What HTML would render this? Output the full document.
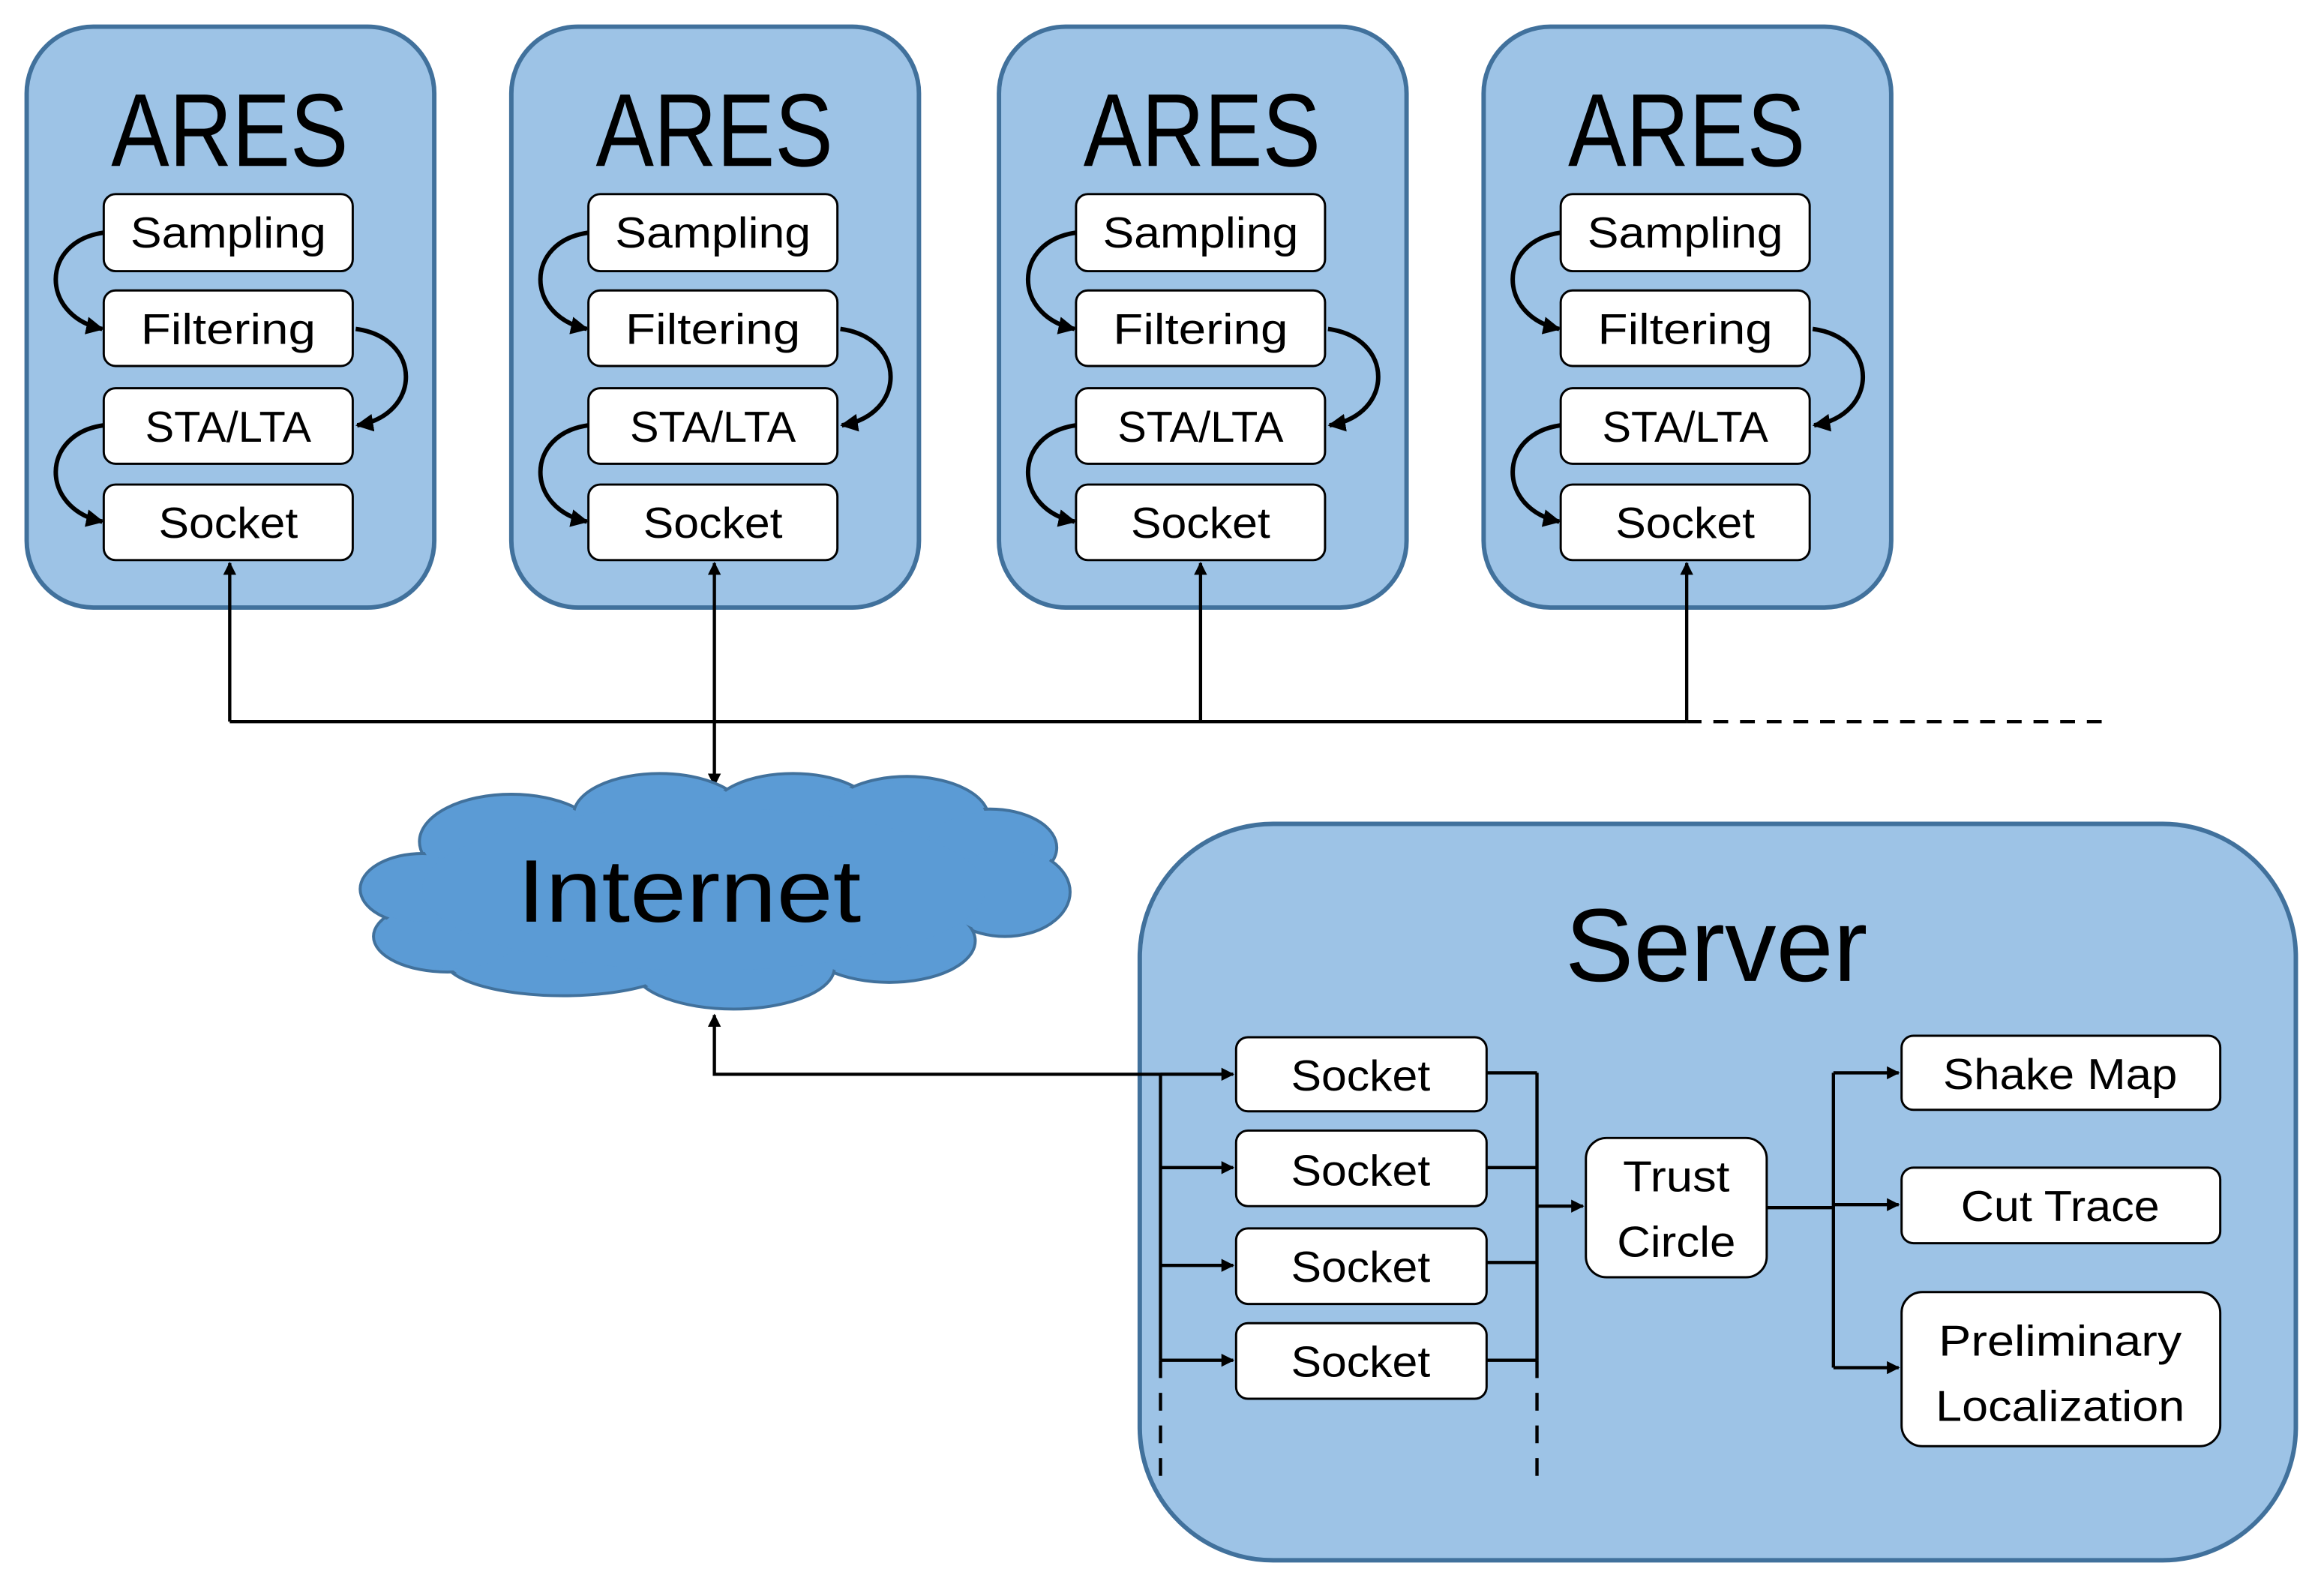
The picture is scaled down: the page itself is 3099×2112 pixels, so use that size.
<!DOCTYPE html>
<html><head><meta charset="utf-8"><style>html,body{margin:0;padding:0;background:#fff}svg{display:block}</style></head>
<body>
<svg width="3099" height="2112" viewBox="0 0 1568 1069" preserveAspectRatio="none" xmlns="http://www.w3.org/2000/svg" font-family="'Liberation Sans', sans-serif">
<defs>
<marker id="a" viewBox="0 0 10 10" refX="9" refY="5" markerWidth="4" markerHeight="4" orient="auto-start-reverse"><path d="M0,0 L10,5 L0,10 z" fill="#000"/></marker>
<g id="ares">
<rect x="1" y="1" width="275" height="392" rx="45" fill="#9DC3E6" stroke="#41719C" stroke-width="3"/>
<text x="138" y="95" font-size="70" text-anchor="middle" textLength="160" lengthAdjust="spacingAndGlyphs">ARES</text>
<g fill="#fff" stroke="#000" stroke-width="1.5">
<rect x="53" y="114" width="168" height="52" rx="8"/>
<rect x="53" y="179" width="168" height="51" rx="8"/>
<rect x="53" y="245" width="168" height="51" rx="8"/>
<rect x="53" y="310" width="168" height="51" rx="8"/>
</g>
<g font-size="29" text-anchor="middle">
<text x="137" y="150" textLength="132" lengthAdjust="spacingAndGlyphs">Sampling</text>
<text x="137" y="215" textLength="118" lengthAdjust="spacingAndGlyphs">Filtering</text>
<text x="137" y="281" textLength="112" lengthAdjust="spacingAndGlyphs">STA/LTA</text>
<text x="137" y="346" textLength="94" lengthAdjust="spacingAndGlyphs">Socket</text>
</g>
<g fill="none" stroke="#000" stroke-width="3" marker-end="url(#a)">
<path d="M53,140 C10,146 10,196 52,205"/>
<path d="M223,205 C268,211 268,263 224,270"/>
<path d="M53,270 C10,276 10,326 52,335"/>
</g>
</g>
</defs>
<use href="#ares" x="17" y="17"/>
<use href="#ares" x="344" y="17"/>
<use href="#ares" x="673" y="17"/>
<use href="#ares" x="1000" y="17"/>

<g fill="none" stroke="#000" stroke-width="2.2">
<path d="M155,487 V380" marker-end="url(#a)"/>
<path d="M810,487 V380" marker-end="url(#a)"/>
<path d="M1138,487 V380" marker-end="url(#a)"/>
<path d="M482,380 V530" marker-start="url(#a)" marker-end="url(#a)"/>
<path d="M155,487 H1138"/>
<path d="M1138,487 H1420" stroke-dasharray="10,8"/>
</g>

<g fill="#5B9BD5" stroke="#41719C" stroke-width="2">
<ellipse cx="345" cy="568" rx="62" ry="32"/><ellipse cx="445" cy="550" rx="58" ry="28"/><ellipse cx="535" cy="548" rx="55" ry="26"/><ellipse cx="612" cy="552" rx="55" ry="28"/><ellipse cx="668" cy="572" rx="45" ry="26"/><ellipse cx="678" cy="602" rx="44" ry="30"/><ellipse cx="600" cy="635" rx="58" ry="28"/><ellipse cx="495" cy="653" rx="68" ry="28"/><ellipse cx="380" cy="648" rx="80" ry="24"/><ellipse cx="302" cy="632" rx="50" ry="24"/><ellipse cx="285" cy="600" rx="42" ry="24"/>
</g>
<g fill="#5B9BD5">
<ellipse cx="345" cy="568" rx="60" ry="30"/><ellipse cx="445" cy="550" rx="56" ry="26"/><ellipse cx="535" cy="548" rx="53" ry="24"/><ellipse cx="612" cy="552" rx="53" ry="26"/><ellipse cx="668" cy="572" rx="43" ry="24"/><ellipse cx="678" cy="602" rx="42" ry="28"/><ellipse cx="600" cy="635" rx="56" ry="26"/><ellipse cx="495" cy="653" rx="66" ry="26"/><ellipse cx="380" cy="648" rx="78" ry="22"/><ellipse cx="302" cy="632" rx="48" ry="22"/><ellipse cx="285" cy="600" rx="40" ry="22"/>
<ellipse cx="475" cy="600" rx="190" ry="55"/>
</g>
<text x="465" y="622" font-size="60" text-anchor="middle" textLength="232" lengthAdjust="spacingAndGlyphs">Internet</text>

<rect x="769" y="556" width="780" height="497" rx="90" fill="#9DC3E6" stroke="#41719C" stroke-width="3"/>
<text x="1158" y="662" font-size="70" text-anchor="middle" textLength="204" lengthAdjust="spacingAndGlyphs">Server</text>
<g fill="#fff" stroke="#000" stroke-width="1.5">
<rect x="834" y="700" width="169" height="50" rx="8"/>
<rect x="834" y="763" width="169" height="51" rx="8"/>
<rect x="834" y="829" width="169" height="51" rx="8"/>
<rect x="834" y="893" width="169" height="51" rx="8"/>
<rect x="1070" y="768" width="122" height="94" rx="14"/>
<rect x="1283" y="699" width="215" height="50" rx="8"/>
<rect x="1283" y="788" width="215" height="51" rx="8"/>
<rect x="1283" y="872" width="215" height="104" rx="14"/>
</g>
<g font-size="29" text-anchor="middle">
<text x="918" y="736" textLength="94" lengthAdjust="spacingAndGlyphs">Socket</text>
<text x="918" y="800" textLength="94" lengthAdjust="spacingAndGlyphs">Socket</text>
<text x="918" y="865" textLength="94" lengthAdjust="spacingAndGlyphs">Socket</text>
<text x="918" y="929" textLength="94" lengthAdjust="spacingAndGlyphs">Socket</text>
<text x="1131" y="804" textLength="72" lengthAdjust="spacingAndGlyphs">Trust</text>
<text x="1131" y="848" textLength="80" lengthAdjust="spacingAndGlyphs">Circle</text>
<text x="1390" y="735" textLength="158" lengthAdjust="spacingAndGlyphs">Shake Map</text>
<text x="1390" y="824" textLength="134" lengthAdjust="spacingAndGlyphs">Cut Trace</text>
<text x="1390" y="915" textLength="164" lengthAdjust="spacingAndGlyphs">Preliminary</text>
<text x="1390" y="959" textLength="168" lengthAdjust="spacingAndGlyphs">Localization</text>
</g>
<g fill="none" stroke="#000" stroke-width="2.2">
<path d="M832,725 H482 V685" marker-end="url(#a)"/>
<path d="M783,725 H832" marker-end="url(#a)"/>
<path d="M783,725 V918"/>
<path d="M783,788 H832" marker-end="url(#a)"/>
<path d="M783,854 H832" marker-end="url(#a)"/>
<path d="M783,918 H832" marker-end="url(#a)"/>
<path d="M783,918 V998" stroke-dasharray="12,10"/>
<path d="M1003,724 H1037 M1003,788 H1037 M1003,852 H1037 M1003,918 H1037 M1037,724 V918"/>
<path d="M1037,918 V998" stroke-dasharray="12,10"/>
<path d="M1037,814 H1068" marker-end="url(#a)"/>
<path d="M1192,815 H1237"/>
<path d="M1237,724 V923"/>
<path d="M1237,724 H1281" marker-end="url(#a)"/>
<path d="M1237,813 H1281" marker-end="url(#a)"/>
<path d="M1237,923 H1281" marker-end="url(#a)"/>
</g>
</svg>
</body></html>
